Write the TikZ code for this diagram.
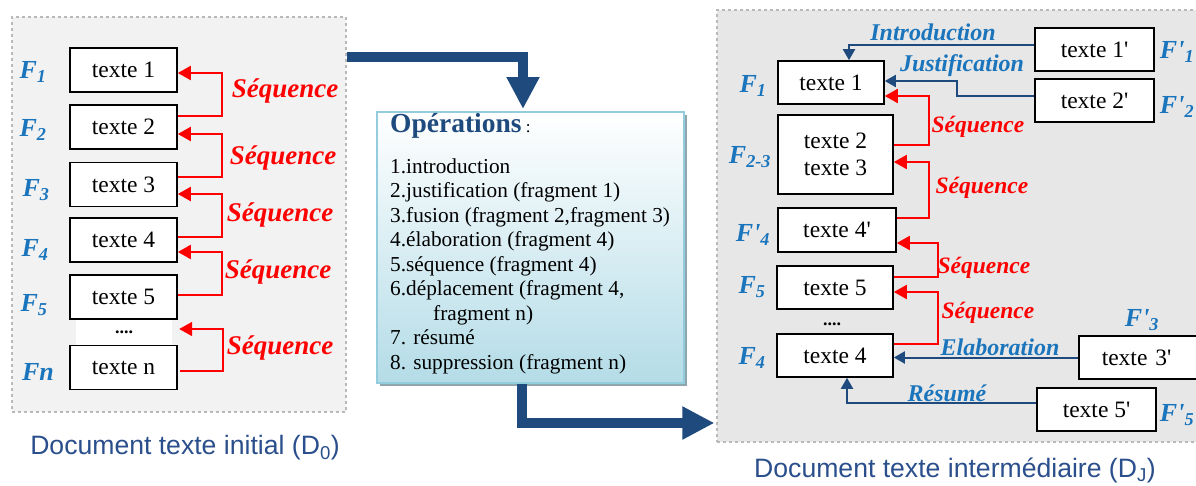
\documentclass[tikz,border=0pt]{standalone}
\usepackage{fontspec}
\setmainfont{Liberation Serif}
\newfontfamily\capfont{Liberation Sans}
\usetikzlibrary{arrows.meta,calc}
\definecolor{fblue}{HTML}{1B75BC}
\definecolor{dblue}{HTML}{1F4A7E}
\definecolor{capblue}{HTML}{2A4F8C}
\definecolor{seqred}{HTML}{FF0000}
\definecolor{panelL}{HTML}{F2F2F2}
\definecolor{panelR}{HTML}{E7E7E7}
\definecolor{opsbot}{HTML}{B4DCE7}
\definecolor{opsborder}{HTML}{93CDDD}
\definecolor{shadowc}{HTML}{8FA6AE}
\newcommand{\q}{\textquotesingle}
\tikzset{
  panel/.style={draw=gray!55, dashed, line width=1.2pt, inner sep=0},
  tbox/.style={draw=black, fill=white, line width=1.6pt, inner sep=0, font=\fontsize{23.5}{27}\selectfont, align=center},
  flab/.style={text=fblue, font=\fontsize{26}{29}\selectfont\bfseries\itshape, inner sep=0},
  seqlab/.style={text=seqred, font=\fontsize{27}{30}\selectfont\bfseries\itshape, inner sep=0},
  seqlabr/.style={text=seqred, font=\fontsize{23.5}{27}\selectfont\bfseries\itshape, inner sep=0},
  rellab/.style={text=fblue, font=\fontsize{24}{27}\selectfont\bfseries\itshape, inner sep=0},
  seqarr/.style={draw=seqred, line width=2pt, -{Triangle[length=13pt,width=14pt]}},
  relarr/.style={draw=dblue, line width=2pt, -{Triangle[length=11pt,width=12pt]}},
  bigarr/.style={draw=dblue, line width=10pt, -{Triangle[length=32pt,width=31pt]}},
  oplin/.style={anchor=base west, inner sep=0, font=\fontsize{21.3}{24}\selectfont},
  caption/.style={text=capblue, font=\capfont\fontsize{26.6}{30}\selectfont, inner sep=0},
  dotsn/.style={inner sep=0, font=\fontsize{18}{20}\selectfont\bfseries}
}
\begin{document}
\begin{tikzpicture}[x=1pt,y=-1pt]
\useasboundingbox (0,0) rectangle (1196,485);
\fill[white] (0,0) rectangle (1196,485);
% panels
\node[panel, fill=panelL, minimum width=334pt, minimum height=395pt] (L) at (179,214.5) {};
\node[panel, fill=panelR, minimum width=493pt, minimum height=432pt] (R) at (963.5,226) {};
% left boxes
\node[tbox, minimum width=107pt, minimum height=44pt] (t1) at (123.5,70) {texte 1};
\node[tbox, minimum width=107pt, minimum height=44pt] (t2) at (123.5,127) {texte 2};
\node[tbox, minimum width=107pt, minimum height=44pt] (t3) at (123.5,184.5) {texte 3};
\node[tbox, minimum width=107pt, minimum height=44pt] (t4) at (123.5,240) {texte 4};
\node[tbox, minimum width=107pt, minimum height=44pt] (t5) at (123.5,297) {texte 5};
\node[tbox, minimum width=107pt, minimum height=44pt] (tn) at (123.5,367.5) {texte n};
\node[dotsn, fill=white, minimum width=96pt, minimum height=25pt] (ld) at (124,332) {....};
% left labels
\node[flab] (lf1) at (33,72) {F\textsubscript{1}};
\node[flab] (lf2) at (33,130) {F\textsubscript{2}};
\node[flab] (lf3) at (36,190) {F\textsubscript{3}};
\node[flab] (lf4) at (35,250) {F\textsubscript{4}};
\node[flab] (lf5) at (34,305) {F\textsubscript{5}};
\node[flab] (lfn) at (38,372) {Fn};
% left sequence arrows
\draw[seqarr] ([yshift=11pt]t2.east) -- ++(44,0) |- ([yshift=-3pt]t1.east);
\draw[seqarr] ([yshift=7.5pt]t3.east) -- ++(44,0) |- ([yshift=-7pt]t2.east);
\draw[seqarr] ([yshift=3pt]t4.east) -- ++(44,0) |- ([yshift=-9.5pt]t3.east);
\draw[seqarr] ([yshift=2pt]t5.east) -- ++(44,0) |- ([yshift=-12pt]t4.east);
\draw[seqarr] ([xshift=2pt,yshift=-3.5pt]tn.east) -- ++(43,0) |- ([xshift=7pt,yshift=3pt]ld.east);
\node[seqlab] (ls1) at (285,91) {Séquence};
\node[seqlab] (ls2) at (283,158) {Séquence};
\node[seqlab] (ls3) at (280,215) {Séquence};
\node[seqlab] (ls4) at (278,272) {Séquence};
\node[seqlab] (ls5) at (280,348) {Séquence};
\node[caption] (capL) at (185,448) {Document texte initial (D\textsubscript{0})};
% operations box
\fill[shadowc] (380,115) rectangle (687,386);
\node[draw=opsborder, line width=2pt, top color=white, bottom color=opsbot, minimum width=307pt, minimum height=271pt, inner sep=0] (ops) at (530.5,247.5) {};
\node[anchor=base west, inner sep=0] (opt) at (390,132) {\textcolor{dblue}{\fontsize{27.5}{30}\selectfont\bfseries Opérations}\fontsize{17}{20}\selectfont\ :};
\node[oplin] (o1) at (390,173) {1.introduction};
\node[oplin] (o2) at (390,197.5) {2.justification (fragment 1)};
\node[oplin] (o3) at (390,222) {3.fusion (fragment 2,fragment 3)};
\node[oplin] (o4) at (390,246.5) {4.élaboration (fragment 4)};
\node[oplin] (o5) at (390,271) {5.séquence (fragment 4)};
\node[oplin] (o6) at (390,295.5) {6.déplacement (fragment 4,};
\node[oplin] (o6b) at (433,320) {fragment n)};
\node[oplin] (o7) at (390,344.5) {7. résumé};
\node[oplin] (o8) at (390,369) {8. suppression (fragment n)};
% big arrows
\draw[bigarr] ([yshift=-41pt]L.north east) -| ([xshift=-7.5pt,yshift=2pt]ops.north);
\draw[bigarr] ([xshift=-8.5pt]ops.south) |- ([xshift=-2pt,yshift=-197pt]R.west);
% right boxes
\node[tbox, minimum width=106pt, minimum height=43pt] (r1) at (831,82.5) {texte 1};
\node[tbox, minimum width=115pt, minimum height=79pt] (r23) at (835.5,154.5) {texte 2\\texte 3};
\node[tbox, minimum width=118pt, minimum height=44pt] (r4p) at (837,230) {texte 4\q};
\node[tbox, minimum width=116pt, minimum height=43pt] (r5) at (835,287.5) {texte 5};
\node[dotsn] (rd) at (832,324) {....};
\node[tbox, minimum width=116pt, minimum height=43pt] (r4) at (835,355.5) {texte 4};
\node[tbox, minimum width=119pt, minimum height=43pt] (r1p) at (1094.5,49.5) {texte 1\q};
\node[tbox, minimum width=119pt, minimum height=43pt] (r2p) at (1094.5,100.5) {texte 2\q};
\node[tbox, minimum width=119pt, minimum height=43pt, text width=119pt] (r3p) at (1138.5,357.5) {\hspace*{-4pt}texte 3\q};
\node[tbox, minimum width=119pt, minimum height=43pt] (r5p) at (1096.5,409.5) {texte 5\q};
% right labels
\node[flab] (rf1) at (753,86) {F\textsubscript{1}};
\node[flab] (rf23) at (750,157) {F\textsubscript{2-3}};
\node[flab] (rf4p) at (753,235) {F\q\textsubscript{4}};
\node[flab] (rf5) at (752,287) {F\textsubscript{5}};
\node[flab] (rf4) at (752,358) {F\textsubscript{4}};
\node[flab] (rf1p) at (1177,52) {F\q\textsubscript{1}};
\node[flab] (rf2p) at (1177,107) {F\q\textsubscript{2}};
\node[flab] (rf3p) at (1142,320) {F\q\textsubscript{3}};
\node[flab] (rf5p) at (1177,415) {F\q\textsubscript{5}};
% right sequence arrows
\draw[seqarr] ([yshift=9.5pt]r23.east) -- ++(35,0) |- ([yshift=-13.5pt]r1.east);
\draw[seqarr] ([yshift=12pt]r4p.east) -- ++(32,0) |- ([yshift=-7.5pt]r23.east);
\draw[seqarr] ([yshift=10.5pt]r5.east) -- ++(44,0) |- ([yshift=-13pt]r4p.east);
\draw[seqarr] ([yshift=11.5pt]r4.east) -- ++(44,0) |- ([yshift=-4.5pt]r5.east);
\node[seqlabr] (rs1) at (978,127) {Séquence};
\node[seqlabr] (rs2) at (982,188) {Séquence};
\node[seqlabr] (rs3) at (984,268) {Séquence};
\node[seqlabr] (rs4) at (988,313) {Séquence};
% relation arrows
\draw[relarr] ([yshift=4.5pt]r1p.west) -| ([xshift=18pt]r1.north);
\draw[relarr] ([yshift=4.5pt]r2p.west) -- ++(-77,0) |- ([yshift=1.5pt]r1.east);
\draw[relarr] (r3p.west) -- (r4.east |- r3p.west);
\draw[relarr] ([yshift=6.5pt]r5p.west) -| ([xshift=12pt]r4.south);
\node[rellab] (li) at (933,32) {Introduction};
\node[rellab] (lj) at (962,66) {Justification};
\node[rellab] (le) at (1000,347) {Elaboration};
\node[rellab] (lr) at (947,393) {Résumé};
\node[caption] (capR) at (955,470) {Document texte intermédiaire (D\textsubscript{J})};
\end{tikzpicture}
\end{document}
